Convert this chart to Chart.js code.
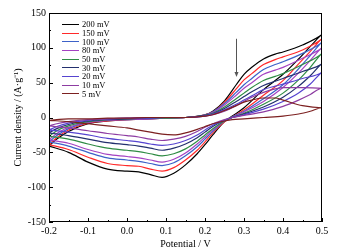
<!DOCTYPE html>
<html>
<head>
<meta charset="utf-8">
<script src="https://cdn.jsdelivr.net/npm/chart.js@4.4.1/dist/chart.umd.min.js"></script>
<style>
  html, body { margin: 0; padding: 0; background: #fff; }
  #wrap { position: relative; width: 352px; height: 252px; }
  #legend {
    position: absolute; left: 62px; top: 20px;
    font-family: "Liberation Serif", serif; font-size: 8.5px; color: #000;
  }
  .item { display: flex; align-items: center; height: 8.7px; white-space: nowrap; }
  .swatch { width: 17px; height: 0; border-top: 1.3px solid; margin-right: 3px; }
</style>
</head>
<body>
<div id="wrap">
  <canvas id="myChart" width="352" height="252"></canvas>
  <div id="legend"></div>
</div>
<script>
// potentials (V) of the anodic sweep and of the return sweep
const potentialFwd = [-0.2, -0.18, -0.15, -0.1, -0.05, 0, 0.05, 0.1, 0.15, 0.2, 0.22, 0.25, 0.28, 0.3, 0.32, 0.35, 0.38, 0.4, 0.45, 0.5];
const potentialRev = [0.5, 0.47, 0.44, 0.4, 0.35, 0.3, 0.27, 0.25, 0.22, 0.2, 0.18, 0.15, 0.12, 0.09, 0.06, 0.03, 0, -0.05, -0.1, -0.15, -0.2];

const scanRates = ["200 mV", "150 mV", "100 mV", "80 mV", "50 mV", "30 mV", "20 mV", "10 mV", "5 mV"];

// current density (A/g), anodic sweep
const fwd200 = [-41, -31, -20, -9, -5, -3, -2, -1, 0, 4, 9, 24, 47, 62, 72, 84, 91, 94, 104, 119];
const fwd150 = [-39, -29, -18, -8, -5, -3, -2, -1, 0, 4, 8, 22, 41, 54, 63, 76, 83, 87, 97, 113];
const fwd100 = [-35, -26, -16, -7, -4, -3, -2, -1, 0, 4, 8, 20, 36, 47, 56, 69, 76, 80, 92, 108];
const fwd80 = [-32, -23, -14, -7, -4, -3, -2, -1, 0, 3, 7, 18, 32, 42, 50, 62, 68, 72, 85, 100];
const fwd50 = [-27, -19, -12, -6, -3, -2, -1, -1, 0, 3, 6, 15, 27, 35, 43, 53, 59, 63, 76, 92];
const fwd30 = [-22, -16, -10, -5, -3, -2, -1, 0, 0, 3, 5, 13, 23, 30, 37, 46, 52, 56, 66, 77];
const fwd20 = [-18, -13, -8, -4, -2, -1, -1, 0, 0, 2, 5, 11, 19, 25, 31, 40, 45, 48, 56, 65];
const fwd10 = [-12, -9, -6, -3, -2, -1, 0, 0, 0, 2, 4, 9, 17, 23, 29, 36, 41, 43, 43, 42];
const fwd5 = [-4, -3, -2, -2, -1, -1, 0, 0, 0, 2, 4, 10, 17, 22, 25, 28, 28, 25, 17, 14];

// current density (A/g), return sweep
const rev200 = [119, 102, 84, 62, 40, 14, 2, -6, -25, -39, -52, -68, -80, -86, -82, -78, -77, -74, -64, -50, -41];
const rev150 = [113, 95, 77, 53, 32, 11, 1, -6, -22, -35, -47, -61, -72, -77, -74, -70, -69, -66, -57, -46, -39];
const rev100 = [108, 89, 70, 47, 27, 9, 1, -5, -20, -31, -42, -55, -65, -69, -66, -63, -61, -58, -50, -41, -35];
const rev80 = [100, 82, 64, 43, 23, 8, 0, -5, -18, -28, -38, -51, -60, -64, -61, -58, -56, -53, -46, -37, -32];
const rev50 = [92, 72, 54, 35, 19, 6, 0, -5, -16, -25, -34, -45, -52, -55, -52, -49, -47, -44, -38, -31, -27];
const rev30 = [77, 60, 45, 29, 15, 5, 0, -4, -13, -21, -29, -38, -44, -47, -44, -41, -39, -36, -31, -26, -22];
const rev20 = [65, 48, 35, 23, 12, 4, 0, -4, -11, -18, -25, -33, -38, -40, -38, -35, -33, -30, -25, -21, -18];
const rev10 = [42, 33, 25, 16, 8, 3, 0, -3, -9, -14, -20, -27, -31, -33, -31, -28, -26, -23, -19, -15, -12];
const rev5 = [14, 9, 5, 2, 0, -2, -3, -5, -9, -13, -17, -22, -25, -24, -21, -18, -15, -12, -9, -6, -4];

const fwdSets = [fwd200, fwd150, fwd100, fwd80, fwd50, fwd30, fwd20, fwd10, fwd5];
const revSets = [rev200, rev150, rev100, rev80, rev50, rev30, rev20, rev10, rev5];

const lineColors = ["#000000", "#ff2a2a", "#3d62c8", "#a442c2", "#2f8c44", "#23306e", "#5644d0", "#8d3ca2", "#7c2020"];

// arrow marking decreasing scan rate (data coordinates)
const arrowPotential = 0.28;
const arrowCurrent = [113, 58];

const serif = "'Liberation Serif', 'Times New Roman', serif";

// closed loop: anodic sweep then return sweep
const datasets = scanRates.map((label, i) => {
  const pts = potentialFwd.map((v, k) => ({ x: v, y: fwdSets[i][k] }));
  potentialRev.slice(1).forEach((v, k) => pts.push({ x: v, y: revSets[i][k + 1] }));
  return {
    label,
    data: pts,
    borderColor: lineColors[i],
    borderWidth: 1.2,
    pointRadius: 0,
    fill: false,
    cubicInterpolationMode: "monotone",
  };
}).reverse();

// legend
const legend = document.getElementById("legend");
scanRates.forEach((label, i) => {
  const row = document.createElement("div");
  row.className = "item";
  row.innerHTML = `<span class="swatch" style="border-color:${lineColors[i]}"></span><span>${label}</span>`;
  legend.appendChild(row);
});

const framePlugin = {
  id: "frame",
  afterDraw(chart) {
    const { ctx, chartArea: a, scales: { x, y } } = chart;
    ctx.save();
    ctx.strokeStyle = "#000";
    ctx.lineWidth = 1;
    ctx.strokeRect(Math.round(a.left) + 0.5, Math.round(a.top) + 0.5,
      Math.round(a.right - a.left) - 1, Math.round(a.bottom - a.top) - 1);

    // inward ticks, major + minor
    ctx.beginPath();
    const xt = x.ticks.map((t) => t.value);
    xt.forEach((v, k) => {
      const px = Math.round(x.getPixelForValue(v)) + 0.5;
      ctx.moveTo(px, a.bottom); ctx.lineTo(px, a.bottom - 4);
      if (k < xt.length - 1) {
        const pm = Math.round(x.getPixelForValue((v + xt[k + 1]) / 2)) + 0.5;
        ctx.moveTo(pm, a.bottom); ctx.lineTo(pm, a.bottom - 2);
      }
    });
    const yt = y.ticks.map((t) => t.value);
    yt.forEach((v, k) => {
      const py = Math.round(y.getPixelForValue(v)) + 0.5;
      ctx.moveTo(a.left, py); ctx.lineTo(a.left + 4, py);
      if (k < yt.length - 1) {
        const pm = Math.round(y.getPixelForValue((v + yt[k + 1]) / 2)) + 0.5;
        ctx.moveTo(a.left, pm); ctx.lineTo(a.left + 2, pm);
      }
    });
    ctx.stroke();

    // arrow
    const ax = Math.round(x.getPixelForValue(arrowPotential)) + 0.5;
    const y0 = y.getPixelForValue(arrowCurrent[0]);
    const y1 = y.getPixelForValue(arrowCurrent[1]);
    ctx.strokeStyle = "#555";
    ctx.fillStyle = "#555";
    ctx.beginPath();
    ctx.moveTo(ax, y0); ctx.lineTo(ax, y1 - 4);
    ctx.stroke();
    ctx.beginPath();
    ctx.moveTo(ax - 2, y1 - 5); ctx.lineTo(ax + 2, y1 - 5); ctx.lineTo(ax, y1);
    ctx.closePath();
    ctx.fill();
    ctx.restore();
  },
};

const tickFont = { family: serif, size: 10 };

new Chart(document.getElementById("myChart").getContext("2d"), {
  type: "scatter",
  data: { datasets },
  options: {
    responsive: false,
    animation: false,
    showLine: true,
    layout: { padding: { top: 13, right: 30, left: 0, bottom: 0 } },
    plugins: { legend: { display: false }, tooltip: { enabled: false } },
    scales: {
      x: {
        type: "linear",
        min: -0.2,
        max: 0.5,
        ticks: {
          stepSize: 0.1,
          color: "#000",
          font: tickFont,
          padding: 3,
          maxRotation: 0,
          callback: (v) => (Math.abs(v) < 1e-9 ? 0 : v).toFixed(1),
        },
        grid: { display: false, drawTicks: false },
        border: { display: false },
        title: { display: true, text: "Potential / V", color: "#000", font: { family: serif, size: 10 }, padding: { top: 0, bottom: 2 } },
        afterFit: (s) => { s.height = 30; },
      },
      y: {
        min: -150,
        max: 150,
        ticks: { stepSize: 50, color: "#000", font: tickFont, padding: 3 },
        grid: { display: false, drawTicks: false },
        border: { display: false },
        title: { display: true, text: "Current density / (A·g⁻¹)", color: "#000", font: { family: serif, size: 10 }, padding: { top: 12, bottom: 0 } },
        afterFit: (s) => { s.width = 49; },
      },
    },
  },
  plugins: [framePlugin],
});
</script>
</body>
</html>
